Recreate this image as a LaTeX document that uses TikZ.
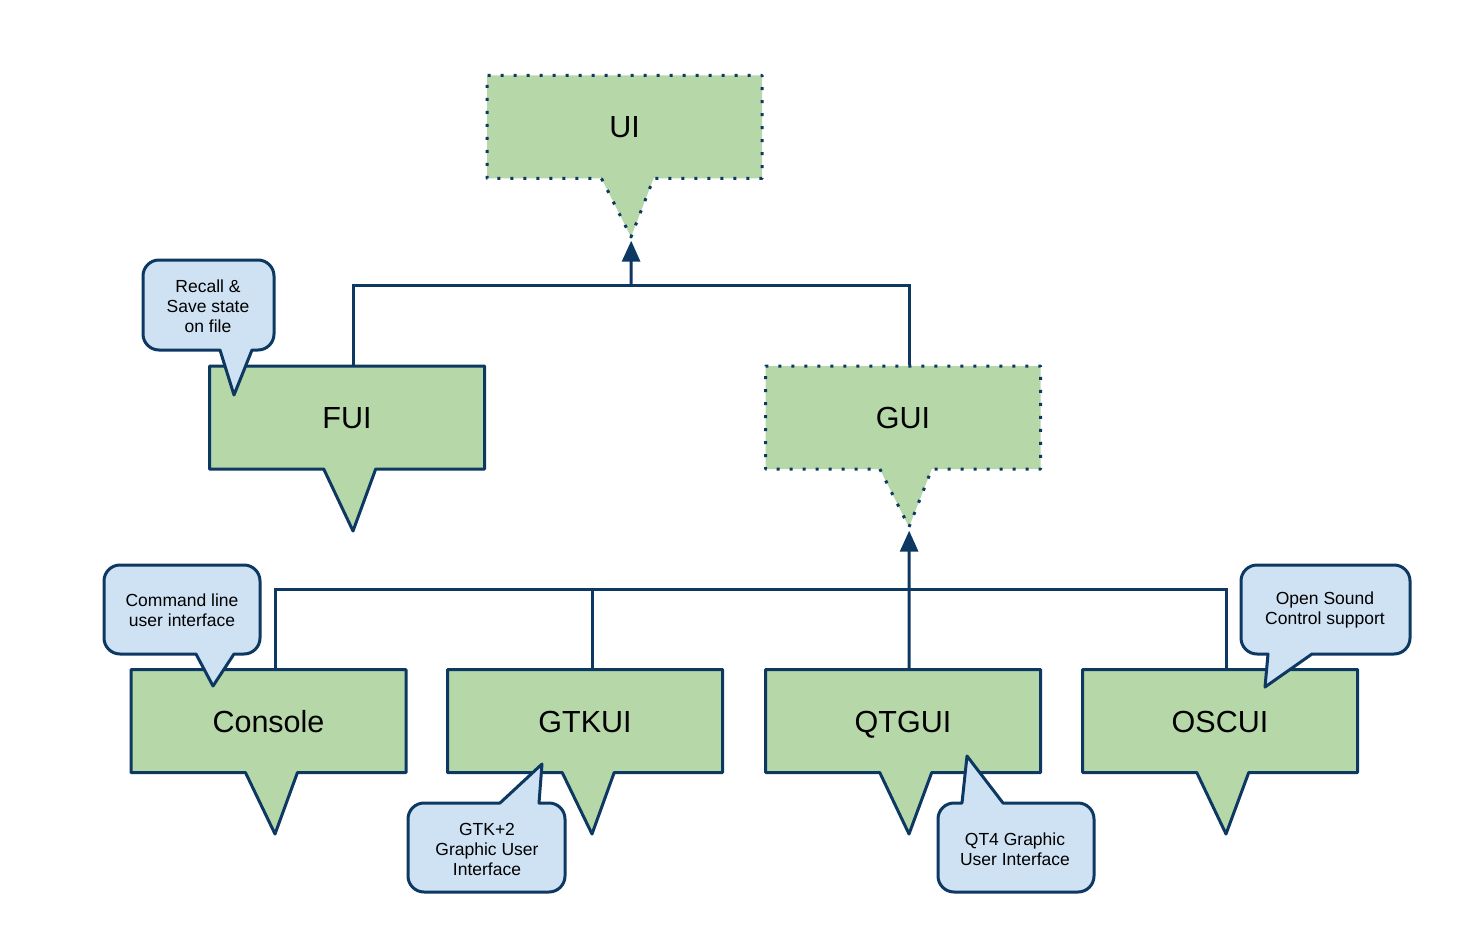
\documentclass[tikz,border=0pt]{standalone}
\usepackage{fontspec}
\setmainfont{Liberation Sans}
\usetikzlibrary{shapes.callouts,arrows.meta}

\definecolor{boxgreen}{HTML}{B6D7A8}
\definecolor{notefill}{HTML}{CFE2F3}
\definecolor{edgeblue}{HTML}{0C3862}

\tikzset{
  classbox/.style={rectangle callout, fill=boxgreen, draw=edgeblue, line width=3pt,
    line join=round, minimum width=275pt, minimum height=103pt, inner sep=0pt,
    text height=28pt, text depth=6pt,
    callout pointer width=52pt, font=\fontsize{30.5}{36}\selectfont},
  abstractbox/.style={classbox, dash pattern=on 3pt off 10pt},
  link/.style={draw=edgeblue, line width=3pt},
  note/.style={fill=notefill, draw=edgeblue, line width=3pt, line join=round},
  notetext/.style={align=center, font=\fontsize{17.5}{20}\selectfont},
  inherit/.style={link, -{Triangle[length=21pt,width=18pt]}}
}

\begin{document}
\begin{tikzpicture}[x=1pt,y=-1pt]
    \useasboundingbox (0,0) rectangle (1472,952);

    % abstract classes
    \node[abstractbox, callout absolute pointer={(631,237)}] (UI) at (624.5,127) {UI};
    \node[abstractbox, callout absolute pointer={(909,527)}] (GUI) at (903,417.5) {GUI};

    % concrete classes
    \node[classbox, callout absolute pointer={(353,531)}] (FUI) at (347,417.5) {FUI};
    \node[classbox, callout absolute pointer={(275,834)}] (Console) at (268.5,721) {Console};
    \node[classbox, callout absolute pointer={(592,834)}] (GTKUI) at (585,721) {GTKUI};
    \node[classbox, callout absolute pointer={(909,834)}] (QTGUI) at (903,721) {QTGUI};
    \node[classbox, callout absolute pointer={(1226,834)}] (OSCUI) at (1220,721) {OSCUI};

    % tree links
    \coordinate (topjoin) at (631,285);
    \coordinate (lowjoin) at (909,589);
    \draw[link] (FUI.pointer |- FUI.north) |- (GUI.pointer |- topjoin) -- (GUI.pointer |- GUI.north);
    \draw[inherit] (topjoin) -- (UI.pointer);
    \draw[link] (Console.pointer |- Console.north) |- (OSCUI.pointer |- lowjoin) -- (OSCUI.pointer |- OSCUI.north);
    \draw[link] (GTKUI.pointer |- GTKUI.north) -- (GTKUI.pointer |- lowjoin);
    \draw[link] (QTGUI.pointer |- QTGUI.north) -- (lowjoin);
    \draw[inherit] (lowjoin) -- (GUI.pointer);

    % notes
    \filldraw[note] (252,350) [rounded corners=16pt] -- (274,350) -- (274,260) -- (143,260) -- (143,350) [sharp corners] -- (220,350) -- (234,395) -- cycle;
    \node[notetext] (recall) at (208,306) {Recall \&\\Save state\\on file};

    \filldraw[note] (234,654) [rounded corners=16pt] -- (260,654) -- (260,565) -- (104,565) -- (104,654) [sharp corners] -- (196,654) -- (213,686) -- cycle;
    \node[notetext] (cmdline) at (182,610) {Command line\\user interface};

    \filldraw[note] (1312,654) [rounded corners=16pt] -- (1410,654) -- (1410,565) -- (1241,565) -- (1241,654) [sharp corners] -- (1268,654) -- (1265,687) -- cycle;
    \node[notetext] (osc) at (1325,610) {Open Sound\\Control support};

    \filldraw[note] (539,803) [rounded corners=16pt] -- (565,803) -- (565,892) -- (408,892) -- (408,803) [sharp corners] -- (500,803) -- (542,764) -- cycle;
    \node[notetext] (gtk) at (487,849) {GTK+2\\Graphic User\\Interface};

    \filldraw[note] (1003,803) [rounded corners=16pt] -- (1094,803) -- (1094,892) -- (938,892) -- (938,803) [sharp corners] -- (962,803) -- (967,756) -- cycle;
    \node[notetext] (qt) at (1015,849) {QT4 Graphic\\User Interface};
\end{tikzpicture}
\end{document}
